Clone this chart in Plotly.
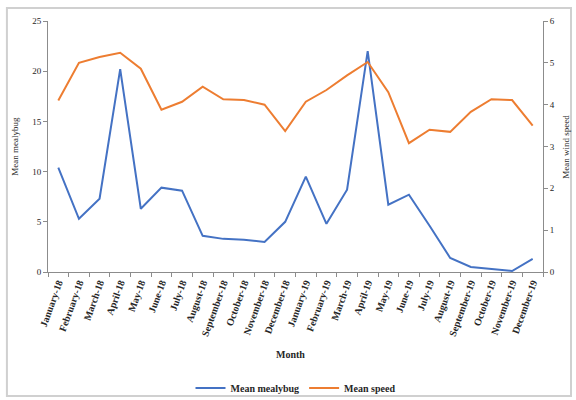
import plotly.graph_objects as go

months = [
    "January-18", "February-18", "March-18", "April-18", "May-18", "June-18",
    "July-18", "August-18", "September-18", "October-18", "November-18", "December-18",
    "January-19", "February-19", "March-19", "April-19", "May-19", "June-19",
    "July-19", "August-19", "September-19", "October-19", "November-19", "December-19",
]
mean_mealybug = [10.4, 5.3, 7.3, 20.2, 6.3, 8.4, 8.1, 3.6, 3.3, 3.2, 3.0, 5.0,
                 9.5, 4.8, 8.2, 22.0, 6.7, 7.7, 4.6, 1.4, 0.5, 0.3, 0.1, 1.3]
mean_speed = [4.1, 5.0, 5.14, 5.24, 4.86, 3.88, 4.07, 4.43, 4.13, 4.11, 4.0, 3.37,
              4.07, 4.35, 4.7, 5.02, 4.3, 3.08, 3.4, 3.35, 3.83, 4.13, 4.11, 3.5]

left_ticks = [0, 5, 10, 15, 20, 25]
right_ticks = [0, 1, 2, 3, 4, 5, 6]

FONT = "Liberation Serif"
AXIS_COL = "#8c8c8c"

fig = go.Figure()
fig.add_trace(go.Scatter(
    x=months, y=mean_mealybug, name="Mean mealybug", mode="lines",
    line=dict(color="#4472C4", width=2), yaxis="y",
))
fig.add_trace(go.Scatter(
    x=months, y=mean_speed, name="Mean speed", mode="lines",
    line=dict(color="#ED7D31", width=2), yaxis="y2",
))

fig.update_layout(
    width=576, height=400,
    margin=dict(l=48, r=33, t=21, b=128, autoexpand=False),
    paper_bgcolor="white", plot_bgcolor="white",
    font=dict(family=FONT, size=9, color="#262626"),
    showlegend=True,
    legend=dict(orientation="h", x=0.5, xanchor="center", y=-0.462, yanchor="middle",
                font=dict(family=FONT, size=10, color="#262626", weight="bold"),
                itemwidth=30, tracegroupgap=0, bgcolor="rgba(0,0,0,0)"),
    xaxis=dict(
        type="category", range=[-0.5, len(months) - 0.5], automargin=False,
        showgrid=False, showline=True, linecolor=AXIS_COL, linewidth=1,
        ticks="outside", ticklen=4, tickcolor=AXIS_COL, tickson="boundaries",
        tickangle=-70, tickfont=dict(family=FONT, size=10, color="#262626", weight="bold"),
        zeroline=False,
    ),
    yaxis=dict(
        range=[0, 25], tickvals=left_ticks, automargin=False, showgrid=False, showline=True,
        linecolor=AXIS_COL, linewidth=1, ticks="outside", ticklen=4, tickcolor=AXIS_COL,
        tickfont=dict(family=FONT, size=9, color="#262626"), zeroline=False,
    ),
    yaxis2=dict(
        range=[0, 6], tickvals=right_ticks, overlaying="y", side="right", automargin=False,
        showgrid=False, showline=True, linecolor=AXIS_COL, linewidth=1,
        ticks="outside", ticklen=4, tickcolor=AXIS_COL,
        tickfont=dict(family=FONT, size=9, color="#262626"), zeroline=False,
    ),
    annotations=[
        dict(text="Mean mealybug", xref="paper", yref="paper", x=-0.068, y=0.5,
             showarrow=False, textangle=-90, xanchor="center", yanchor="middle",
             font=dict(family=FONT, size=9, color="#262626")),
        dict(text="Mean wind speed", xref="paper", yref="paper", x=1.045, y=0.5,
             showarrow=False, textangle=-90, xanchor="center", yanchor="middle",
             font=dict(family=FONT, size=9, color="#262626")),
        dict(text="Month", xref="paper", yref="paper", x=0.49, y=-0.33,
             showarrow=False, xanchor="center", yanchor="middle",
             font=dict(family=FONT, size=10, color="#262626", weight="bold")),
    ],
    shapes=[
        dict(type="rect", xref="paper", yref="paper", x0=-0.083, x1=1.0566,
             y0=-0.494, y1=1.052, line=dict(color="#d0d0d0", width=2),
             fillcolor="rgba(0,0,0,0)", layer="below"),
    ],
)

fig.write_html("out.html")
